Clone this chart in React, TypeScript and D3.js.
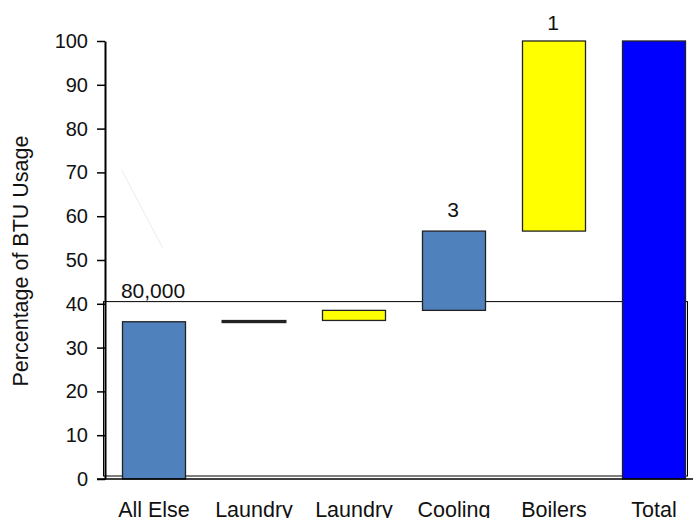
import React, { useRef, useEffect } from 'react';
import * as d3 from 'd3';

// waterfall steps
const categories = ['All Else', 'Laundry', 'Laundry', 'Cooling', 'Boilers', 'Total'];
const barBase = [0, 35.8, 36.2, 38.5, 56.6, 0];
const barTop = [35.9, 36.1, 38.5, 56.6, 100, 100];
const barColors = ['#4f81bd', '#000000', '#ffff00', '#4f81bd', '#ffff00', '#0000ff'];
const yTicks = [0, 10, 20, 30, 40, 50, 60, 70, 80, 90, 100];
const annotations = [
    { index: 0, text: '80,000', value: 41.3 },
    { index: 3, text: '3', value: 59.8 },
    { index: 4, text: '1', value: 102.6 },
];
const boxTop = 40.5;

const W = 693;
const H = 518;

const App = () => {
    const svgRef = useRef<SVGSVGElement>(null);

    useEffect(() => {
        const svg = d3.select(svgRef.current);
        svg.selectAll('*').remove();

        const font = 'Liberation Sans, Arial, sans-serif';

        const x = d3.scaleBand<number>()
            .domain(categories.map((_, i) => i))
            .range([104, 704])
            .paddingInner(0.37)
            .paddingOuter(0.185);
        const y = d3.scaleLinear().domain([0, 100]).range([479, 41]);

        // the outlined box behind the bars
        svg.append('rect')
            .attr('x', 103.5)
            .attr('y', y(boxTop))
            .attr('width', 584)
            .attr('height', 476 - y(boxTop))
            .attr('fill', 'none')
            .attr('stroke', '#000')
            .attr('stroke-width', 1);

        // faint stray stroke
        svg.append('line')
            .attr('x1', 121.5).attr('y1', y(70.6))
            .attr('x2', 162.5).attr('y2', y(52.8))
            .attr('stroke', '#ececec')
            .attr('stroke-width', 1);

        // bars
        svg.append('g')
            .selectAll('rect')
            .data(categories.map((_, i) => i))
            .join('rect')
            .attr('x', i => x(i)!)
            .attr('width', x.bandwidth())
            .attr('y', i => y(barTop[i]))
            .attr('height', i => Math.max(y(barBase[i]) - y(barTop[i]), 1))
            .attr('fill', i => barColors[i])
            .attr('stroke', '#222')
            .attr('stroke-width', i => (i === 1 ? 2 : 1.3));

        // value labels
        svg.append('g')
            .selectAll('text')
            .data(annotations)
            .join('text')
            .attr('x', d => x(d.index)! + x.bandwidth() / 2 - 1)
            .attr('y', d => y(d.value))
            .attr('text-anchor', 'middle')
            .attr('font-family', font)
            .attr('font-size', 21)
            .attr('fill', '#111')
            .text(d => d.text);

        // y axis
        const yAxis = d3.axisLeft(y)
            .tickValues(yTicks)
            .tickSize(8)
            .tickSizeOuter(0)
            .tickPadding(9);
        const gy = svg.append('g')
            .attr('transform', 'translate(105,0)')
            .call(yAxis);
        gy.select('.domain').attr('stroke', '#000').attr('stroke-width', 2);
        gy.selectAll('.tick line').attr('stroke', '#000').attr('stroke-width', 1.5);
        gy.selectAll('.tick text')
            .attr('font-family', font)
            .attr('font-size', 20)
            .attr('fill', '#111');

        // x axis line
        svg.append('line')
            .attr('x1', 97).attr('x2', W)
            .attr('y1', 479).attr('y2', 479)
            .attr('stroke', '#000')
            .attr('stroke-width', 1.5);

        // category labels (bottom edge crops them, as in the source)
        svg.append('g')
            .selectAll('text')
            .data(categories.map((c, i) => ({ c, i })))
            .join('text')
            .attr('x', d => x(d.i)! + x.bandwidth() / 2)
            .attr('y', 517)
            .attr('text-anchor', 'middle')
            .attr('font-family', font)
            .attr('font-size', 21.5)
            .attr('fill', '#111')
            .text(d => d.c);

        // y title
        svg.append('text')
            .attr('transform', 'translate(28,261) rotate(-90)')
            .attr('text-anchor', 'middle')
            .attr('font-family', font)
            .attr('font-size', 21.5)
            .attr('fill', '#111')
            .text('Percentage of BTU Usage');
    }, []);

    return (
        <svg
            ref={svgRef}
            width={W}
            height={H}
            style={{ position: 'absolute', left: 0, top: 0, background: '#fff' }}
        ></svg>
    );
};

export default App;
